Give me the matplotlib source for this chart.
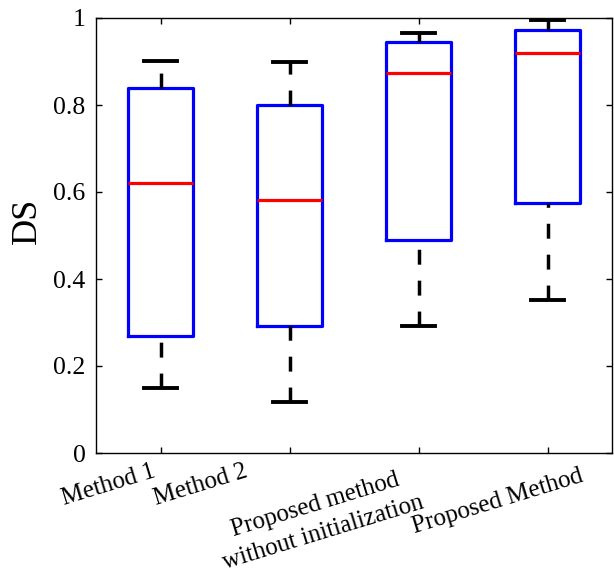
import matplotlib
matplotlib.use('Agg')
import matplotlib.pyplot as plt
import matplotlib.transforms as mtransforms

# Werte
methods = ['Method 1', 'Method 2', 'Proposed method\nwithout initialization', 'Proposed Method']
q1 = [0.269, 0.292, 0.490, 0.575]
med = [0.621, 0.582, 0.874, 0.920]
q3 = [0.840, 0.800, 0.945, 0.972]
whislo = [0.149, 0.117, 0.292, 0.352]
whishi = [0.901, 0.899, 0.966, 0.995]

plt.rcParams['font.family'] = ['Liberation Serif', 'DejaVu Serif']

fig = plt.figure(figsize=(6.14, 5.79), dpi=100)
ax = fig.add_axes([96 / 614, 126 / 579, 516 / 614, 435 / 579])

stats = []
for i in range(len(methods)):
    stats.append({'med': med[i], 'q1': q1[i], 'q3': q3[i],
                  'whislo': whislo[i], 'whishi': whishi[i], 'fliers': []})

bp = ax.bxp(stats, positions=[1, 2, 3, 4], widths=0.5, showfliers=False,
            boxprops=dict(color='#0000ff', linewidth=2.3),
            medianprops=dict(color='#ff0000', linewidth=2.3),
            whiskerprops=dict(color='black', linewidth=2.5, linestyle=(0, (4.3, 4.6))),
            capprops=dict(color='black', linewidth=2.8),
            capwidths=0.25)

# untere Whisker von unten nach oben zeichnen, damit das Strichmuster am Cap beginnt
for w in bp['whiskers'][0::2]:
    x, y = w.get_data()
    w.set_data(x[::-1], y[::-1])

ax.set_xlim(0.5, 4.5)
ax.set_ylim(0, 1)
ax.set_yticks([0, 0.2, 0.4, 0.6, 0.8, 1.0])
ax.set_yticklabels(['0', '0.2', '0.4', '0.6', '0.8', '1'])
ax.tick_params(direction='in', length=4, top=True, right=True, labelsize=18.5, width=1, pad=7.5)
ax.set_ylabel('DS', fontsize=26)
ax.yaxis.set_label_coords(-0.10, 0.533)

ax.set_xticks([1, 2, 3, 4])
ax.set_xticklabels([''] * 4)
# Beschriftungen: Versatz (Pixel) des linken Grundlinienpunkts (letzte Zeile) relativ zum Tick
offsets = [(-96, -52), (-133, -52), (-195, -109), (-133, -80)]
for pos, lab, (dx, dy) in zip([1, 2, 3, 4], methods, offsets):
    tr = ax.get_xaxis_transform() + mtransforms.ScaledTranslation(dx / 100, dy / 100, fig.dpi_scale_trans)
    ax.text(pos, 0, lab, transform=tr, rotation=17, rotation_mode='anchor',
            ha='left', va='baseline', fontsize=18, multialignment='center', linespacing=1.4)

for s in ax.spines.values():
    s.set_linewidth(1)

fig.savefig('out.png', dpi=100)
